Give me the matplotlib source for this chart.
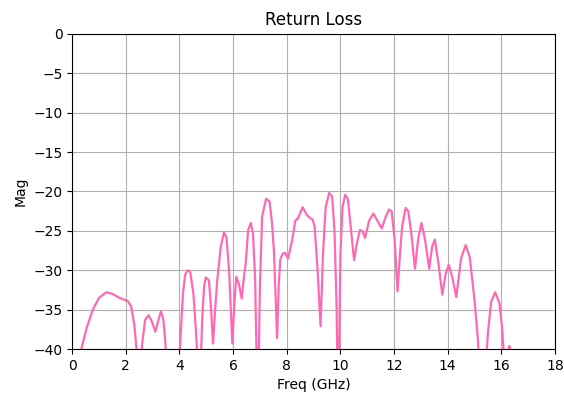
import matplotlib.pyplot as plt

# S11 magnitude sampled across the band
freq = [
    0.20, 0.34, 0.55, 0.77, 1.00, 1.27, 1.50, 1.76, 2.07, 2.20, 2.32, 2.45,
    2.55, 2.62, 2.72, 2.85, 2.97, 3.10, 3.20, 3.31, 3.40, 3.47, 3.55,
    3.95, 4.05, 4.13, 4.21, 4.30, 4.40, 4.52, 4.62, 4.70,
    4.78, 4.85, 4.92, 4.98, 5.10, 5.18, 5.25, 5.33, 5.41, 5.54, 5.66, 5.75,
    5.85, 5.97, 6.05, 6.12, 6.22, 6.32, 6.40, 6.47, 6.56, 6.66, 6.74, 6.82,
    6.88, 6.95, 7.00, 7.08, 7.23, 7.36, 7.45, 7.52, 7.64, 7.70, 7.76, 7.85,
    7.93, 8.05, 8.20, 8.32, 8.42, 8.59, 8.75, 8.88, 8.97, 9.04, 9.15, 9.26,
    9.35, 9.45, 9.58, 9.69, 9.78, 9.86, 9.90, 9.93, 10.00, 10.08, 10.18, 10.28,
    10.40, 10.51, 10.62, 10.73, 10.83, 10.92, 11.07, 11.23, 11.41, 11.54,
    11.68, 11.81, 11.91, 12.02, 12.13, 12.22, 12.30, 12.43, 12.53, 12.65,
    12.78, 12.90, 13.02, 13.15, 13.31, 13.42, 13.52, 13.65, 13.80, 13.92,
    14.04, 14.18, 14.32, 14.50, 14.67, 14.82, 15.00, 15.12, 15.20, 15.40,
    15.50, 15.62, 15.77, 15.93, 16.02, 16.12, 16.22, 16.30, 16.38,
]
mag = [
    -45, -40, -37.2, -35.0, -33.5, -32.8, -33.0, -33.5, -33.9, -34.6, -37, -42,
    -42, -39, -36.3, -35.7, -36.5, -37.8, -36.5, -35.2, -36.3, -39, -44,
    -44, -38, -33, -30.6, -30.0, -30.2, -33, -38, -43,
    -43, -36, -32, -30.9, -31.3, -35, -39.3, -35, -31.2, -27.0, -25.2, -25.8,
    -30, -39.3, -34, -30.8, -31.8, -33.6, -31, -29.1, -24.9, -24.0, -25.3, -31,
    -42, -42, -32, -23.2, -20.9, -21.3, -24, -27.5, -38.6, -32, -28.6, -27.9,
    -27.8, -28.5, -26.2, -23.7, -23.4, -22.0, -23.0, -23.4, -23.6, -24.5, -30, -37.1,
    -28, -22, -20.2, -20.6, -25, -35, -46, -46, -28, -22, -20.4, -21.0,
    -25, -28.7, -26.5, -24.9, -25.1, -25.9, -23.7, -22.8, -23.9, -24.7,
    -23.3, -22.3, -22.5, -26, -32.7, -28, -24.5, -22.1, -22.5, -25.5,
    -29.8, -26, -24.0, -26, -29.8, -27, -26.1, -29, -33.1, -30.5,
    -29.3, -31, -33.4, -28.5, -26.8, -28.3, -33.8, -38.5, -43, -43,
    -38, -34, -32.8, -34.2, -37, -42, -41, -39.6, -40.5,
]

fig, ax = plt.subplots(figsize=(5.64, 3.98), dpi=100)
fig.subplots_adjust(left=0.128, right=0.984, top=0.915, bottom=0.123)

ax.plot(freq, mag, color="#ff69b4", linewidth=1.6)
ax.set_xlim(0, 18)
ax.set_ylim(-40, 0)
ax.set_xticks(range(0, 19, 2))
ax.set_title("Return Loss")
ax.set_xlabel("Freq (GHz)")
ax.set_ylabel("Mag")
ax.grid(True)

plt.savefig("out.png")
